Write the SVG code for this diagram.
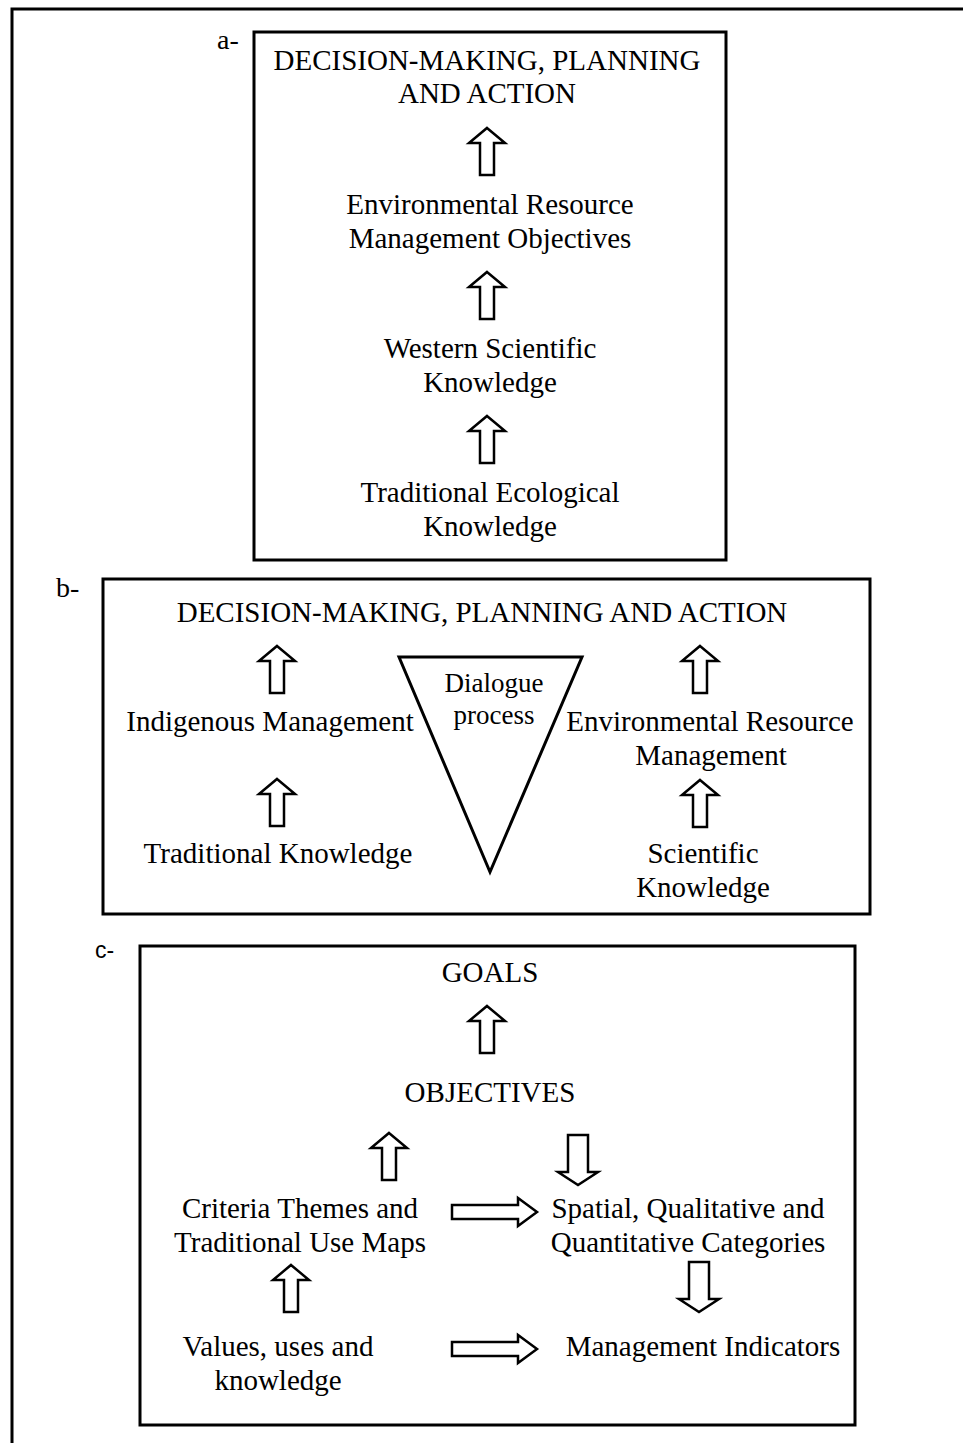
<svg xmlns="http://www.w3.org/2000/svg" xmlns:xlink="http://www.w3.org/1999/xlink" width="963" height="1443" viewBox="0 0 963 1443">
<defs>
<style>
text{font-family:"Liberation Serif","Times New Roman",serif;font-size:29px;fill:#000;text-anchor:middle}
.lbl{font-size:28px;text-anchor:start}
.sans{font-family:"Liberation Sans",Arial,sans-serif;font-size:23px;text-anchor:start}
.box{fill:none;stroke:#000;stroke-width:3}
.arr{fill:#fff;stroke:#000;stroke-width:2.5;stroke-linejoin:miter}
.dlg{font-size:27px}
</style>
<path id="up" class="arr" d="M0,0 L18,15 L7,15 L7,47 L-7,47 L-7,15 L-18,15 Z"/>
<path id="down" class="arr" d="M-10,0 L10,0 L10,37 L20,37 L0,50 L-20,37 L-10,37 Z"/>
<path id="right" class="arr" d="M0,-7 L66,-7 L66,-14 L85,0 L66,14 L66,7 L0,7 Z"/>
</defs>
<rect width="963" height="1443" fill="#fff"/>
<path class="box" d="M12,1443 L12,9 L963,9"/>

<g id="panel-a">
<text class="lbl" x="217" y="49">a-</text>
<rect class="box" x="254" y="32" width="472" height="528"/>
<g id="a-decision"><text x="487" y="70">DECISION-MAKING, PLANNING</text><text x="487" y="103">AND ACTION</text></g>
<g id="a-erm"><text x="490" y="214">Environmental Resource</text><text x="490" y="248">Management Objectives</text></g>
<g id="a-wsk"><text x="490" y="358">Western Scientific</text><text x="490" y="392">Knowledge</text></g>
<g id="a-tek"><text x="490" y="502">Traditional Ecological</text><text x="490" y="536">Knowledge</text></g>
</g>

<g id="panel-b">
<text class="lbl" x="56" y="597">b-</text>
<rect class="box" x="103" y="579" width="767" height="335"/>
<g id="b-decision"><text x="482" y="622">DECISION-MAKING, PLANNING AND ACTION</text></g>
<g id="b-im"><text x="270" y="731">Indigenous Management</text></g>
<g id="b-tk"><text x="278" y="863">Traditional Knowledge</text></g>
<g id="b-dialogue"><path d="M399,657 L582,657 L490,872 Z" fill="none" stroke="#000" stroke-width="3" stroke-linejoin="miter"/><text class="dlg" x="494" y="692">Dialogue</text><text class="dlg" x="494" y="724">process</text></g>
<g id="b-erm"><text x="710" y="731">Environmental Resource</text><text x="711" y="765">Management</text></g>
<g id="b-sk"><text x="703" y="863">Scientific</text><text x="703" y="897">Knowledge</text></g>
</g>

<g id="panel-c">
<text class="sans" x="95" y="958">c-</text>
<rect class="box" x="140" y="946" width="715" height="479"/>
<g id="c-goals"><text x="490" y="982">GOALS</text></g>
<g id="c-objectives"><text x="490" y="1102">OBJECTIVES</text></g>
<g id="c-criteria"><text x="300" y="1218">Criteria Themes and</text><text x="300" y="1252">Traditional Use Maps</text></g>
<g id="c-spatial"><text x="688" y="1218">Spatial, Qualitative and</text><text x="688" y="1252">Quantitative Categories</text></g>
<g id="c-values"><text x="278" y="1356">Values, uses and</text><text x="278" y="1390">knowledge</text></g>
<g id="c-indicators"><text x="703" y="1356">Management Indicators</text></g>
</g>

<g id="connectors">
<use xlink:href="#up" x="487" y="128"/>
<use xlink:href="#up" x="487" y="272"/>
<use xlink:href="#up" x="487" y="416"/>
<use xlink:href="#up" x="277" y="646"/>
<use xlink:href="#up" x="277" y="779"/>
<use xlink:href="#up" x="700" y="646"/>
<use xlink:href="#up" x="700" y="780"/>
<use xlink:href="#up" x="487" y="1006"/>
<use xlink:href="#up" x="389" y="1133"/>
<use xlink:href="#down" x="578" y="1135"/>
<use xlink:href="#right" x="452" y="1212"/>
<use xlink:href="#up" x="291" y="1265"/>
<use xlink:href="#down" x="699" y="1262"/>
<use xlink:href="#right" x="452" y="1349"/>
</g>
</svg>
